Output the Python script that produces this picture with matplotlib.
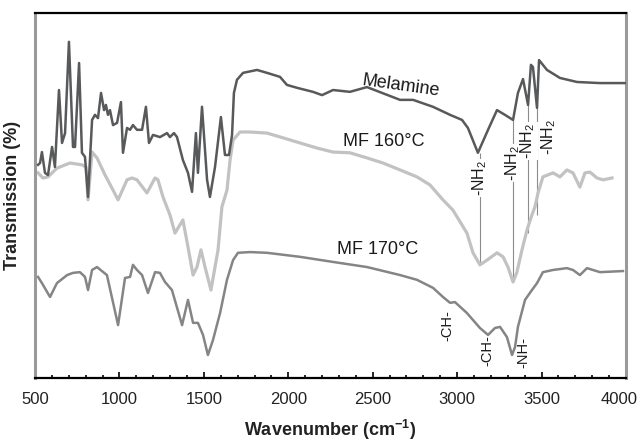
import matplotlib
matplotlib.use("Agg")
import matplotlib.pyplot as plt
from matplotlib.ticker import MultipleLocator
from matplotlib.transforms import ScaledTranslation

plt.rcParams['font.family'] = ['Liberation Sans', 'DejaVu Sans']
plt.rcParams['mathtext.fontset'] = 'custom'
plt.rcParams['mathtext.rm'] = 'Liberation Sans'
plt.rcParams['mathtext.it'] = 'Liberation Sans:italic'
plt.rcParams['mathtext.bf'] = 'Liberation Sans:bold'

# FTIR spectra (transmission in arbitrary offset units)
mel_wn = [518, 530, 541, 559, 577, 601, 618, 642, 660, 678, 701, 725, 737, 761, 778, 796, 814,
          838, 855, 873, 891, 909, 920, 932, 944, 962, 986, 1009, 1021, 1045, 1063, 1080, 1104,
          1134, 1157, 1175, 1199, 1240, 1282, 1299, 1323, 1341, 1376, 1406, 1430, 1453, 1465,
          1489, 1519, 1536, 1566, 1601, 1625, 1649, 1667, 1678, 1696, 1732, 1815, 1874, 1951,
          1992, 2052, 2146, 2200, 2265, 2365, 2466, 2662, 2739, 2857, 2958, 3029, 3064, 3123,
          3183, 3236, 3283, 3331, 3360, 3390, 3420, 3437, 3449, 3473, 3485, 3532, 3609, 3710,
          3846, 4000]
mel_t = [58.4, 58.9, 61.9, 56.2, 55.6, 63.3, 57.8, 78.9, 64.4, 67.1, 92.1, 63.3, 63.3, 86.3,
         61.7, 60.6, 49.6, 70.7, 72.1, 71.2, 78.1, 73.4, 74.8, 72.1, 73.4, 69.3, 69.9, 75.6,
         61.7, 68.5, 68.0, 69.3, 68.0, 68.0, 74.3, 64.4, 66.6, 66.0, 67.1, 66.0, 67.1, 66.0,
         59.7, 56.2, 51.0, 67.1, 56.2, 74.3, 54.3, 49.6, 57.8, 71.5, 61.1, 61.1, 66.6, 78.1,
         81.7, 83.6, 84.4, 83.6, 82.5, 80.3, 79.5, 78.4, 77.5, 78.9, 78.4, 79.7, 76.2, 76.2,
         74.3, 72.1, 70.7, 68.5, 61.7, 68.0, 73.4, 72.1, 70.7, 78.1, 81.9, 74.8, 85.8, 85.2,
         74.0, 87.1, 84.4, 82.2, 81.1, 80.8, 80.8]

mf160_wn = [518, 547, 577, 630, 707, 778, 802, 814, 838, 867, 915, 962, 992, 1045, 1074, 1104,
            1163, 1211, 1228, 1258, 1299, 1329, 1376, 1406, 1436, 1459, 1483, 1507, 1542, 1566,
            1584, 1607, 1637, 1655, 1673, 1714, 1773, 1874, 1969, 2069, 2170, 2265, 2365, 2466,
            2561, 2662, 2762, 2839, 2916, 2975, 3058, 3094, 3135, 3177, 3236, 3272, 3301, 3331,
            3354, 3384, 3414, 3443, 3461, 3479, 3508, 3568, 3609, 3650, 3686, 3727, 3757, 3787,
            3828, 3864, 3917]
mf160_t = [56.2, 54.8, 55.1, 57.5, 58.9, 58.4, 57.8, 48.8, 61.9, 60.3, 55.6, 51.5, 48.8, 54.3,
           54.8, 54.3, 50.7, 54.8, 54.3, 49.6, 44.7, 39.7, 43.3, 35.9, 28.2, 30.4, 35.1, 30.4,
           24.1, 30.4, 35.1, 46.9, 51.5, 59.7, 65.2, 67.4, 67.4, 67.1, 65.8, 64.4, 63.0, 61.9,
           61.7, 60.3, 58.9, 57.0, 55.1, 52.9, 48.8, 46.0, 39.7, 34.3, 31.0, 32.3, 34.3, 33.2,
           30.4, 26.3, 29.0, 35.1, 40.6, 44.7, 46.9, 50.7, 55.1, 56.2, 55.1, 57.0, 56.2, 52.3,
           56.2, 56.4, 54.8, 54.3, 54.8]

mf170_wn = [518, 541, 589, 630, 690, 725, 766, 796, 814, 838, 867, 926, 992, 1033, 1063, 1080,
            1104, 1134, 1169, 1211, 1240, 1270, 1311, 1371, 1406, 1436, 1465, 1495, 1524, 1554,
            1596, 1637, 1673, 1702, 1773, 1874, 2069, 2265, 2466, 2662, 2762, 2857, 2916, 2958,
            2987, 3058, 3135, 3183, 3224, 3254, 3295, 3325, 3343, 3360, 3402, 3443, 3473, 3508,
            3568, 3650, 3686, 3727, 3769, 3846, 3982]
mf170_t = [27.7, 26.0, 22.2, 26.0, 28.2, 28.8, 29.0, 27.7, 24.1, 29.6, 30.4, 28.2, 14.5, 27.4,
           27.7, 31.0, 29.6, 28.2, 23.3, 29.0, 28.8, 26.3, 24.1, 14.5, 21.4, 15.1, 15.1, 11.8,
           6.3, 10.4, 17.8, 26.9, 32.3, 34.3, 34.5, 34.3, 33.2, 31.8, 30.4, 28.2, 26.9, 24.7,
           22.2, 20.6, 20.8, 17.8, 13.7, 11.8, 13.7, 14.0, 11.2, 6.3, 8.5, 14.0, 21.4, 24.1,
           26.0, 29.0, 29.6, 30.1, 29.6, 28.2, 30.1, 29.0, 29.3]

# -NH2 band markers: wavenumber, top (melamine), bottom (MF 160), label y
nh2_wn = [3135, 3331, 3420, 3473]
nh2_top = [61.7, 70.7, 74.8, 74.0]
nh2_bot = [31.0, 26.3, 39.7, 44.7]
nh2_label_wn = [3135, 3331, 3420, 3540]
nh2_label_t = [54.8, 58.9, 64.9, 66.0]

# MF 170 band labels
band_labels = ['-CH-', '-CH-', '-NH-']
band_wn = [2940, 3177, 3390]
band_t = [14.5, 7.5, 7.0]

fig = plt.figure(figsize=(6.4, 4.41), dpi=100)
ax = fig.add_axes([35 / 640, 63 / 441, 591 / 640, 365 / 441])

ax.plot(mf170_wn, mf170_t, color='#858585', lw=1.8, zorder=2)
ax.plot(mf160_wn, mf160_t, color='#c2c2c2', lw=2.3, zorder=2)
ax.plot(mel_wn, mel_t, color='#58595b', lw=1.8, zorder=3)

ax.vlines(nh2_wn, nh2_bot, nh2_top, color='#8c8c8c', lw=0.8, zorder=1)
for i in range(len(nh2_wn)):
    bb = dict(facecolor='white', edgecolor='none', pad=0.5) if i < 3 else None
    ax.text(nh2_label_wn[i], nh2_label_t[i], '-NH$_2$', rotation=90, ha='center', va='center',
            fontsize=11.5, color='#1a1a1a', bbox=bb, zorder=4)

for lab, w, t in zip(band_labels, band_wn, band_t):
    ax.text(w, t, lab, rotation=90, ha='center', va='center', fontsize=10.5, color='#1a1a1a')

ax.text(2668, 80.0, 'Melamine', rotation=-8, ha='center', va='center', fontsize=13, color='#1a1a1a')
ax.text(2324, 64.7, 'MF 160°C', ha='left', va='center', fontsize=13, color='#1a1a1a')
ax.text(2288, 35.1, 'MF 170°C', ha='left', va='center', fontsize=13, color='#1a1a1a')

ax.set_xlim(500, 4000)
ax.set_ylim(0, 100)
ax.set_yticks([])
ax.xaxis.set_major_locator(MultipleLocator(500))
ax.xaxis.set_minor_locator(MultipleLocator(100))
ax.tick_params(axis='x', which='major', direction='in', length=4, width=1.2, pad=10,
               labelsize=12, labelcolor='#222222', top=False)
ax.tick_params(axis='x', which='minor', direction='in', length=2.5, width=1.2, top=False)

for side in ['top', 'bottom']:
    ax.spines[side].set_color('black')
    ax.spines[side].set_linewidth(1.6)
for side in ['left', 'right']:
    ax.spines[side].set_color('#9a9a9a')
    ax.spines[side].set_linewidth(2.2)

ax.set_xlabel('Wavenumber (cm$^{\\mathbf{-1}}$)', fontsize=13, fontweight='bold', labelpad=8,
              color='#222222')
ax.set_ylabel('Transmission (%)', fontsize=13, fontweight='bold', labelpad=10, color='#222222')

# nudge the last tick label so it stays inside the image
fig.canvas.draw()
for lbl in ax.get_xticklabels():
    if lbl.get_text() == '4000':
        lbl.set_transform(lbl.get_transform() + ScaledTranslation(-0.07, 0, fig.dpi_scale_trans))

fig.savefig('out.png', dpi=100)
